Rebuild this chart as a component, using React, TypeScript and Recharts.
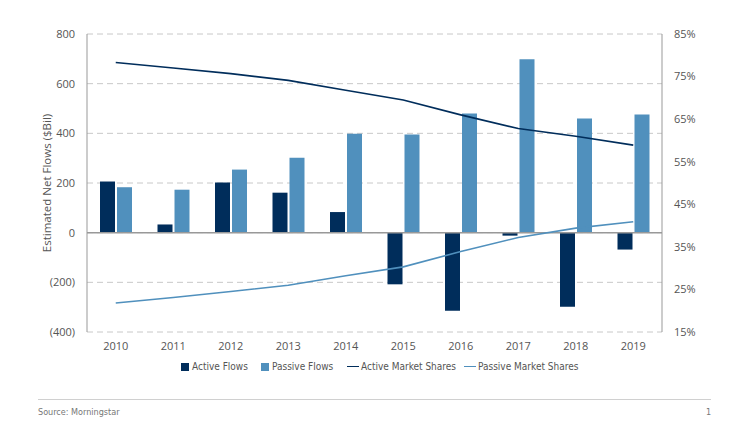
import {
  Bar,
  CartesianGrid,
  ComposedChart,
  Line,
  ReferenceLine,
  XAxis,
  YAxis,
} from "recharts";

const years = ["2010", "2011", "2012", "2013", "2014", "2015", "2016", "2017", "2018", "2019"];
const activeFlows = [206, 33, 202, 161, 83, -208, -314, -12, -298, -68];
const passiveFlows = [183, 173, 254, 302, 398, 395, 480, 698, 460, 476];
const activeShares = [78.3, 77.0, 75.7, 74.1, 71.8, 69.5, 66.0, 62.8, 61.0, 58.9];
const passiveShares = [21.8, 23.1, 24.5, 26.0, 28.2, 30.3, 33.9, 37.2, 39.4, 40.9];

const flowTicks = [-400, -200, 0, 200, 400, 600, 800];
const shareTicks = [15, 25, 35, 45, 55, 65, 75, 85];

const ACTIVE = "#002d5b";
const PASSIVE = "#5090bd";
const TEXT = "#555";
const FONT = "'Open Sans', 'Noto Sans', sans-serif";
const NARROW = "'Liberation Sans Narrow', 'DejaVu Sans Condensed', 'Open Sans', sans-serif";

const data = years.map((year, i) => ({
  year,
  active: activeFlows[i],
  passive: passiveFlows[i],
  activeShare: activeShares[i],
  passiveShare: passiveShares[i],
}));

const formatFlow = (v: number) => (v < 0 ? `(${Math.abs(v)})` : `${v}`);

const legendItems = [
  { label: "Active Flows", color: ACTIVE, kind: "box", left: 181 },
  { label: "Passive Flows", color: PASSIVE, kind: "box", left: 261 },
  { label: "Active Market Shares", color: ACTIVE, kind: "line", left: 347 },
  { label: "Passive Market Shares", color: PASSIVE, kind: "line", left: 464 },
];

export default function App() {
  const tick = { fill: TEXT, fontSize: 11, fontFamily: FONT };

  return (
    <div
      style={{
        position: "fixed",
        left: 0,
        top: 0,
        width: 748,
        height: 438,
        background: "#fff",
        fontFamily: FONT,
      }}
    >
      <ComposedChart
        width={748}
        height={360}
        data={data}
        margin={{ top: 34, right: 38, left: 6, bottom: 0 }}
        barSize={15}
        barGap={2}
      >
        <CartesianGrid
          yAxisId="left"
          vertical={false}
          stroke="#c8c8c8"
          strokeDasharray="6 4"
        />
        <XAxis
          dataKey="year"
          axisLine={false}
          tickLine={false}
          tick={tick}
          height={28}
          tickMargin={4}
        />
        <YAxis
          yAxisId="left"
          domain={[-400, 800]}
          ticks={flowTicks}
          tickFormatter={formatFlow}
          width={81}
          axisLine={{ stroke: "#999" }}
          tickLine={false}
          tick={tick}
          tickMargin={6}
          label={{
            value: "Estimated Net Flows ($Bil)",
            angle: -90,
            position: "center",
            fill: TEXT,
            fontSize: 11.5,
            fontFamily: FONT,
          }}
        />
        <YAxis
          yAxisId="right"
          orientation="right"
          domain={[15, 85]}
          ticks={shareTicks}
          tickFormatter={(v: number) => `${v}%`}
          width={48}
          axisLine={{ stroke: "#999" }}
          tickLine={false}
          tick={{ ...tick, textAnchor: "start" }}
          tickMargin={6}
        />
        <ReferenceLine yAxisId="left" y={0} stroke="#999" strokeWidth={1.5} />
        <Bar yAxisId="left" dataKey="active" fill={ACTIVE} isAnimationActive={false} />
        <Bar yAxisId="left" dataKey="passive" fill={PASSIVE} isAnimationActive={false} />
        <Line
          yAxisId="right"
          dataKey="activeShare"
          stroke={ACTIVE}
          strokeWidth={1.6}
          dot={false}
          isAnimationActive={false}
        />
        <Line
          yAxisId="right"
          dataKey="passiveShare"
          stroke={PASSIVE}
          strokeWidth={1.6}
          dot={false}
          isAnimationActive={false}
        />
      </ComposedChart>

      {legendItems.map((item) => (
        <div
          key={item.label}
          style={{
            position: "absolute",
            top: 361,
            left: item.left,
            display: "flex",
            alignItems: "center",
            fontSize: 10,
            fontFamily: NARROW,
            color: TEXT,
            whiteSpace: "nowrap",
          }}
        >
          {item.kind === "box" ? (
            <span style={{ width: 8, height: 8, background: item.color, marginRight: 3 }} />
          ) : (
            <span style={{ width: 12, height: 1.5, background: item.color, marginRight: 2 }} />
          )}
          <span>{item.label}</span>
        </div>
      ))}

      <div
        style={{
          position: "absolute",
          top: 399,
          left: 38,
          width: 673,
          borderTop: "1px solid #d0d0d0",
        }}
      />
      <div
        style={{
          position: "absolute",
          top: 407,
          left: 38,
          fontSize: 9,
          fontFamily: NARROW,
          color: "#777",
        }}
      >
        Source: Morningstar
      </div>
      <div
        style={{
          position: "absolute",
          top: 407,
          left: 706,
          fontSize: 9,
          fontFamily: NARROW,
          color: "#777",
        }}
      >
        1
      </div>
    </div>
  );
}
